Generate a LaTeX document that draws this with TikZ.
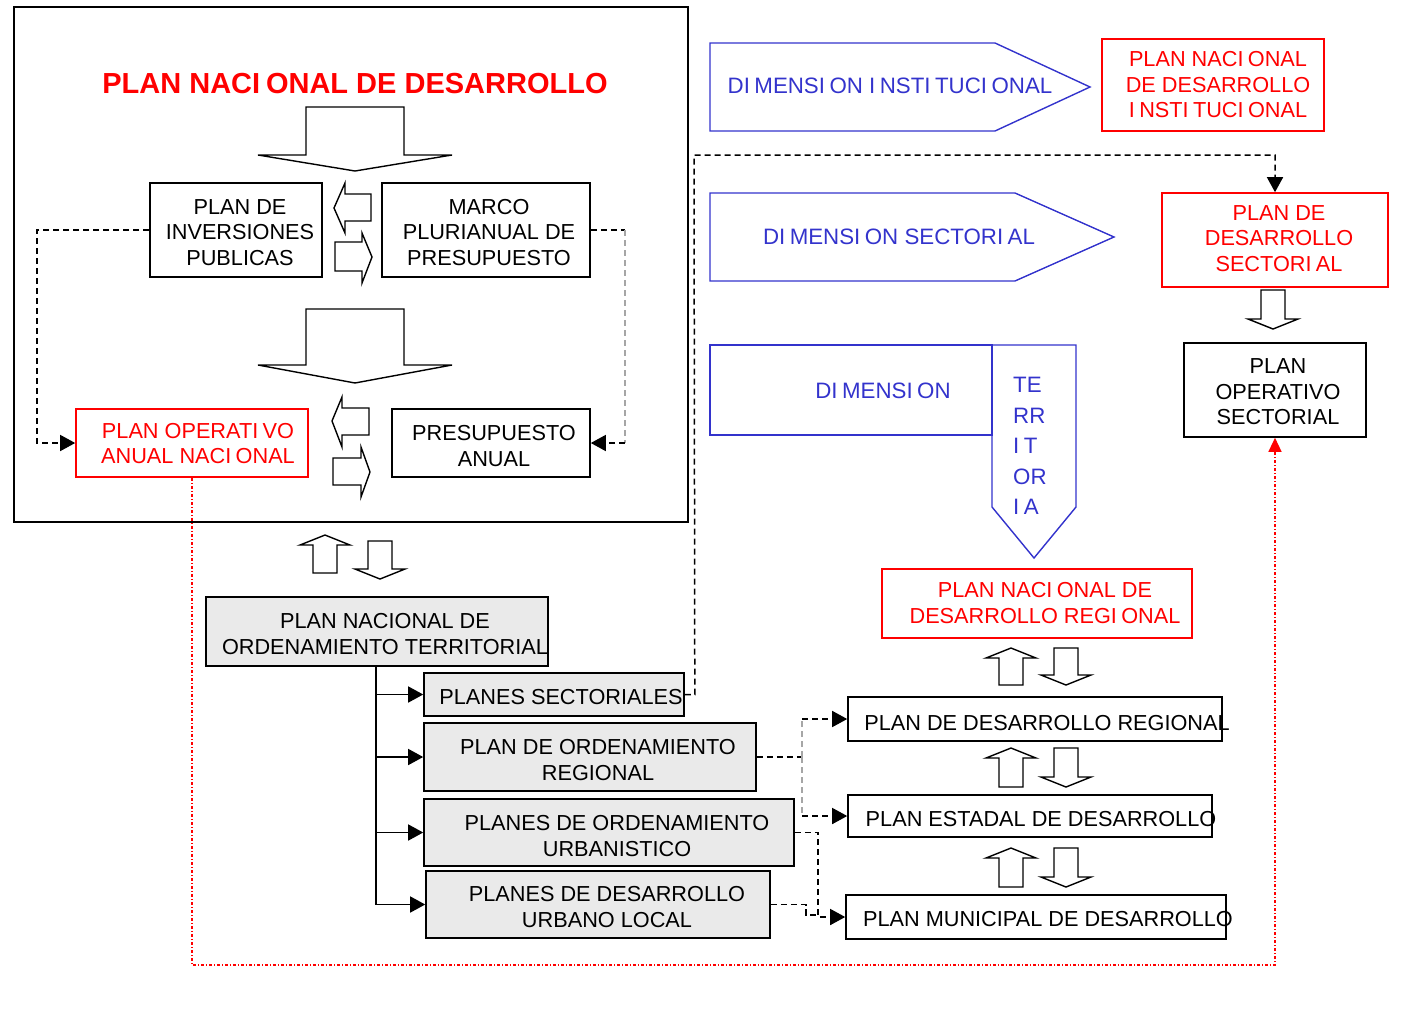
\documentclass[tikz,border=0pt]{standalone}
\usepackage{fontspec}
\setmainfont{Liberation Sans}
\usetikzlibrary{arrows.meta}
\definecolor{rojo}{HTML}{FF0000}
\definecolor{azul}{HTML}{3333CC}
\definecolor{gris}{HTML}{EAEAEA}
\newcommand\Ig{I\kern.2em}
\newcommand\blockdown[4]{% cx, top, tip, name
  \draw[barrow] ({#1-12},#2) -- ({#1+12},#2) -- ({#1+12},{#3-10}) -- ({#1+25},{#3-10}) -- (#1,#3) coordinate (#4) -- ({#1-25},{#3-10}) -- ({#1-12},{#3-10}) -- cycle;}
\newcommand\blockup[4]{% cx, tip, bottom, name
  \draw[barrow] (#1,#2) coordinate (#4) -- ({#1+25},{#2+10}) -- ({#1+12},{#2+10}) -- ({#1+12},#3) -- ({#1-12},#3) -- ({#1-12},{#2+10}) -- ({#1-25},{#2+10}) -- cycle;}
\begin{document}
\begin{tikzpicture}[x=1pt,y=-1pt,
  box/.style={draw, line width=1.6pt, inner sep=0pt},
  redbox/.style={box, draw=rojo},
  graybox/.style={box, fill=gris},
  txt/.style={align=center, inner sep=0pt, font=\fontsize{21.7}{25.5}\selectfont},
  rtxt/.style={txt, text=rojo},
  btxt/.style={txt, text=azul, font=\fontsize{22.3}{25.5}\selectfont},
  blueshape/.style={draw=azul, line width=1.4pt, line join=miter},
  barrow/.style={draw, fill=white, line width=1.4pt, line join=miter},
  dashline/.style={line width=1.5pt, dash pattern=on 6pt off 4pt},
  endtri/.style={-{Triangle[length=15pt,width=16pt]}},
  reddot/.style={draw=rojo, line width=1.3pt, dash pattern=on 3pt off 2pt on 1pt off 2pt}
]
\useasboundingbox (0,0) rectangle (1424,1023);

% outer frame and title
\node[box, line width=2pt, minimum width=674, minimum height=515] (outer) at (351,264.5) {};
\node[inner sep=0pt, text=rojo, font=\fontsize{29}{34}\selectfont\bfseries] (title) at (355,84) {PLAN NAC\Ig ONAL DE DESARROLLO};

% big down arrows
\draw[barrow] (306,107) -- (404,107) -- (404,155) -- (452,155) -- (355,171) -- (258,155) -- (306,155) -- cycle;
\draw[barrow] (306,309) -- (404,309) -- (404,365) -- (452,365) -- (355,383) -- (258,365) -- (306,365) -- cycle;

% boxes inside frame
\node[box, minimum width=172, minimum height=94] (inv) at (236,230) {};
\node[txt] (invt) at (240,232.5) {PLAN DE\\INVERSIONES\\PUBLICAS};
\node[box, minimum width=208, minimum height=94] (marco) at (486,230) {};
\node[txt] (marcot) at (489,232.5) {MARCO\\PLURIANUAL DE\\PRESUPUESTO};
\node[redbox, minimum width=232, minimum height=68] (poa) at (192,443) {};
\node[rtxt] (poat) at (198,443.5) {PLAN OPERAT\Ig VO\\ANUAL NAC\Ig ONAL};
\node[box, minimum width=198, minimum height=68] (pres) at (491,443) {};
\node[txt] (prest) at (494,446) {PRESUPUESTO\\ANUAL};

% small block arrows between boxes
\draw[barrow] (371,194) -- (345,194) -- (345,183) -- (334,208) -- (345,233) -- (345,221) -- (371,221) -- cycle;
\draw[barrow] (335,242) -- (362,242) -- (362,233) -- (372,257) -- (362,283) -- (362,271) -- (335,271) -- cycle;
\draw[barrow] (369,408) -- (342,408) -- (342,397) -- (332,421) -- (342,447) -- (342,435) -- (369,435) -- cycle;
\draw[barrow] (333,458) -- (361,458) -- (361,447) -- (370,472) -- (361,497) -- (361,485) -- (333,485) -- cycle;

% dashed feedback connectors
\draw[dashline, endtri] (inv.west) -- ++(-112,0) |- (poa.west);
\draw[dashline] (marco.east) -- ++(34,0) coordinate (mc);
\draw[dashline, draw=gray!70] (mc) -- (mc |- pres.east) coordinate (mp);
\draw[dashline, endtri] (mp) -- (pres.east);

% pair below frame
\blockup{325}{535}{573}{u1}
\blockdown{380}{541}{579}{d1}

% territorial ordering tree
\node[graybox, minimum width=342, minimum height=69] (pnot) at (377,631.5) {};
\node[txt] (pnott) at (385,634) {PLAN NACIONAL DE\\ORDENAMIENTO TERRITORIAL};
\node[graybox, minimum width=260, minimum height=43] (ps) at (554,694.5) {};
\node[txt] (pst) at (561,697) {PLANES SECTORIALES};
\node[graybox, minimum width=332, minimum height=68] (por) at (590,757) {};
\node[txt] (port) at (598,760) {PLAN DE ORDENAMIENTO\\REGIONAL};
\node[graybox, minimum width=370, minimum height=67] (pou) at (609,832.5) {};
\node[txt] (pout) at (617,836) {PLANES DE ORDENAMIENTO\\URBANISTICO};
\node[graybox, minimum width=344, minimum height=67] (pdul) at (598,904.5) {};
\node[txt] (pdult) at (607,907) {PLANES DE DESARROLLO\\URBANO LOCAL};

\coordinate (trunk) at (376,666);
\draw[line width=1.5pt] (trunk) -- (376,904.5);
\draw[line width=1.5pt, endtri] (trunk) |- (ps.west);
\draw[line width=1.5pt, endtri] (trunk) |- (por.west);
\draw[line width=1.5pt, endtri] (trunk) |- (pou.west);
\draw[line width=1.5pt, endtri] (trunk) |- (pdul.west);

% right column: dimensions
\draw[blueshape] (710,43) -- (995,43) -- (1090,87) -- (995,131) -- (710,131) -- cycle;
\node[btxt] (dit) at (890,86) {D\Ig MENS\Ig ON \Ig NST\Ig TUC\Ig ONAL};
\node[redbox, minimum width=222, minimum height=92] (pndi) at (1213,85) {};
\node[rtxt] (pndit) at (1218,85) {PLAN NAC\Ig ONAL\\DE DESARROLLO\\\Ig NST\Ig TUC\Ig ONAL};

\draw[blueshape] (710,193) -- (1015,193) -- (1114,237) -- (1015,281) -- (710,281) -- cycle;
\node[btxt] (dst) at (899,237) {D\Ig MENS\Ig ON SECTOR\Ig AL};
\node[redbox, minimum width=226, minimum height=94] (pds) at (1275,240) {};
\node[rtxt] (pdst) at (1279,238.5) {PLAN DE\\DESARROLLO\\SECTOR\Ig AL};

\blockdown{1273}{290}{329}{d5}
\node[box, minimum width=182, minimum height=94] (pos) at (1275,390) {};
\node[txt] (post) at (1278,392) {PLAN\\OPERATIVO\\SECTORIAL};

\draw[blueshape] (710,345) rectangle (992,435);
\draw[blueshape] (992,345) -- (1076,345) -- (1076,507) -- (1034,558) -- (992,507) -- cycle;
\node[btxt] (dtt) at (883,391) {D\Ig MENS\Ig ON};
\node[btxt, align=left, anchor=north west, font=\fontsize{22.3}{30.5}\selectfont] (dtv) at (1013,377) {TE\\RR\\\Ig T\\OR\\\Ig A};

\node[redbox, minimum width=310, minimum height=69] (pndr) at (1037,603.5) {};
\node[rtxt] (pndrt) at (1045,603) {PLAN NAC\Ig ONAL DE\\DESARROLLO REG\Ig ONAL};

\blockup{1011}{648}{685}{u2}
\blockdown{1066}{648}{685}{d2}
\node[box, minimum width=374, minimum height=44] (pdr) at (1035,719) {};
\node[txt] (pdrt) at (1047,723) {PLAN DE DESARROLLO REGIONAL};
\blockup{1011}{748}{787}{u3}
\blockdown{1066}{748}{787}{d3}
\node[box, minimum width=364, minimum height=42] (ped) at (1030,816) {};
\node[txt] (pedt) at (1041,819) {PLAN ESTADAL DE DESARROLLO};
\blockup{1011}{848}{887}{u4}
\blockdown{1066}{848}{887}{d4}
\node[box, minimum width=380, minimum height=44] (pmd) at (1036,917) {};
\node[txt] (pmdt) at (1048,919) {PLAN MUNICIPAL DE DESARROLLO};

% dashed connectors to the right column
\draw[dashline, endtri] (ps.east) -- ++(10,0) -- (694,155) -| (pds.north);
\draw[dashline] (por.east) -- (802,757) coordinate (rj);
\draw[dashline, draw=gray!70] (rj) -- (802,719);
\draw[dashline, draw=gray!70] (rj) -- (802,816);
\draw[dashline, endtri] (802,719) -- (pdr.west);
\draw[dashline, endtri] (802,816) -- (ped.west);
\draw[dashline, endtri] (pou.east) -- (818,832.5) |- (pmd.west);
\draw[dashline] (pdul.east) -- (806,904.5) |- (818,915);

% red dotted link
\draw[reddot, -{Triangle[length=14pt,width=13pt]}, rojo] (poa.south) -- (192,965) -| (pos.south);
\end{tikzpicture}
\end{document}
